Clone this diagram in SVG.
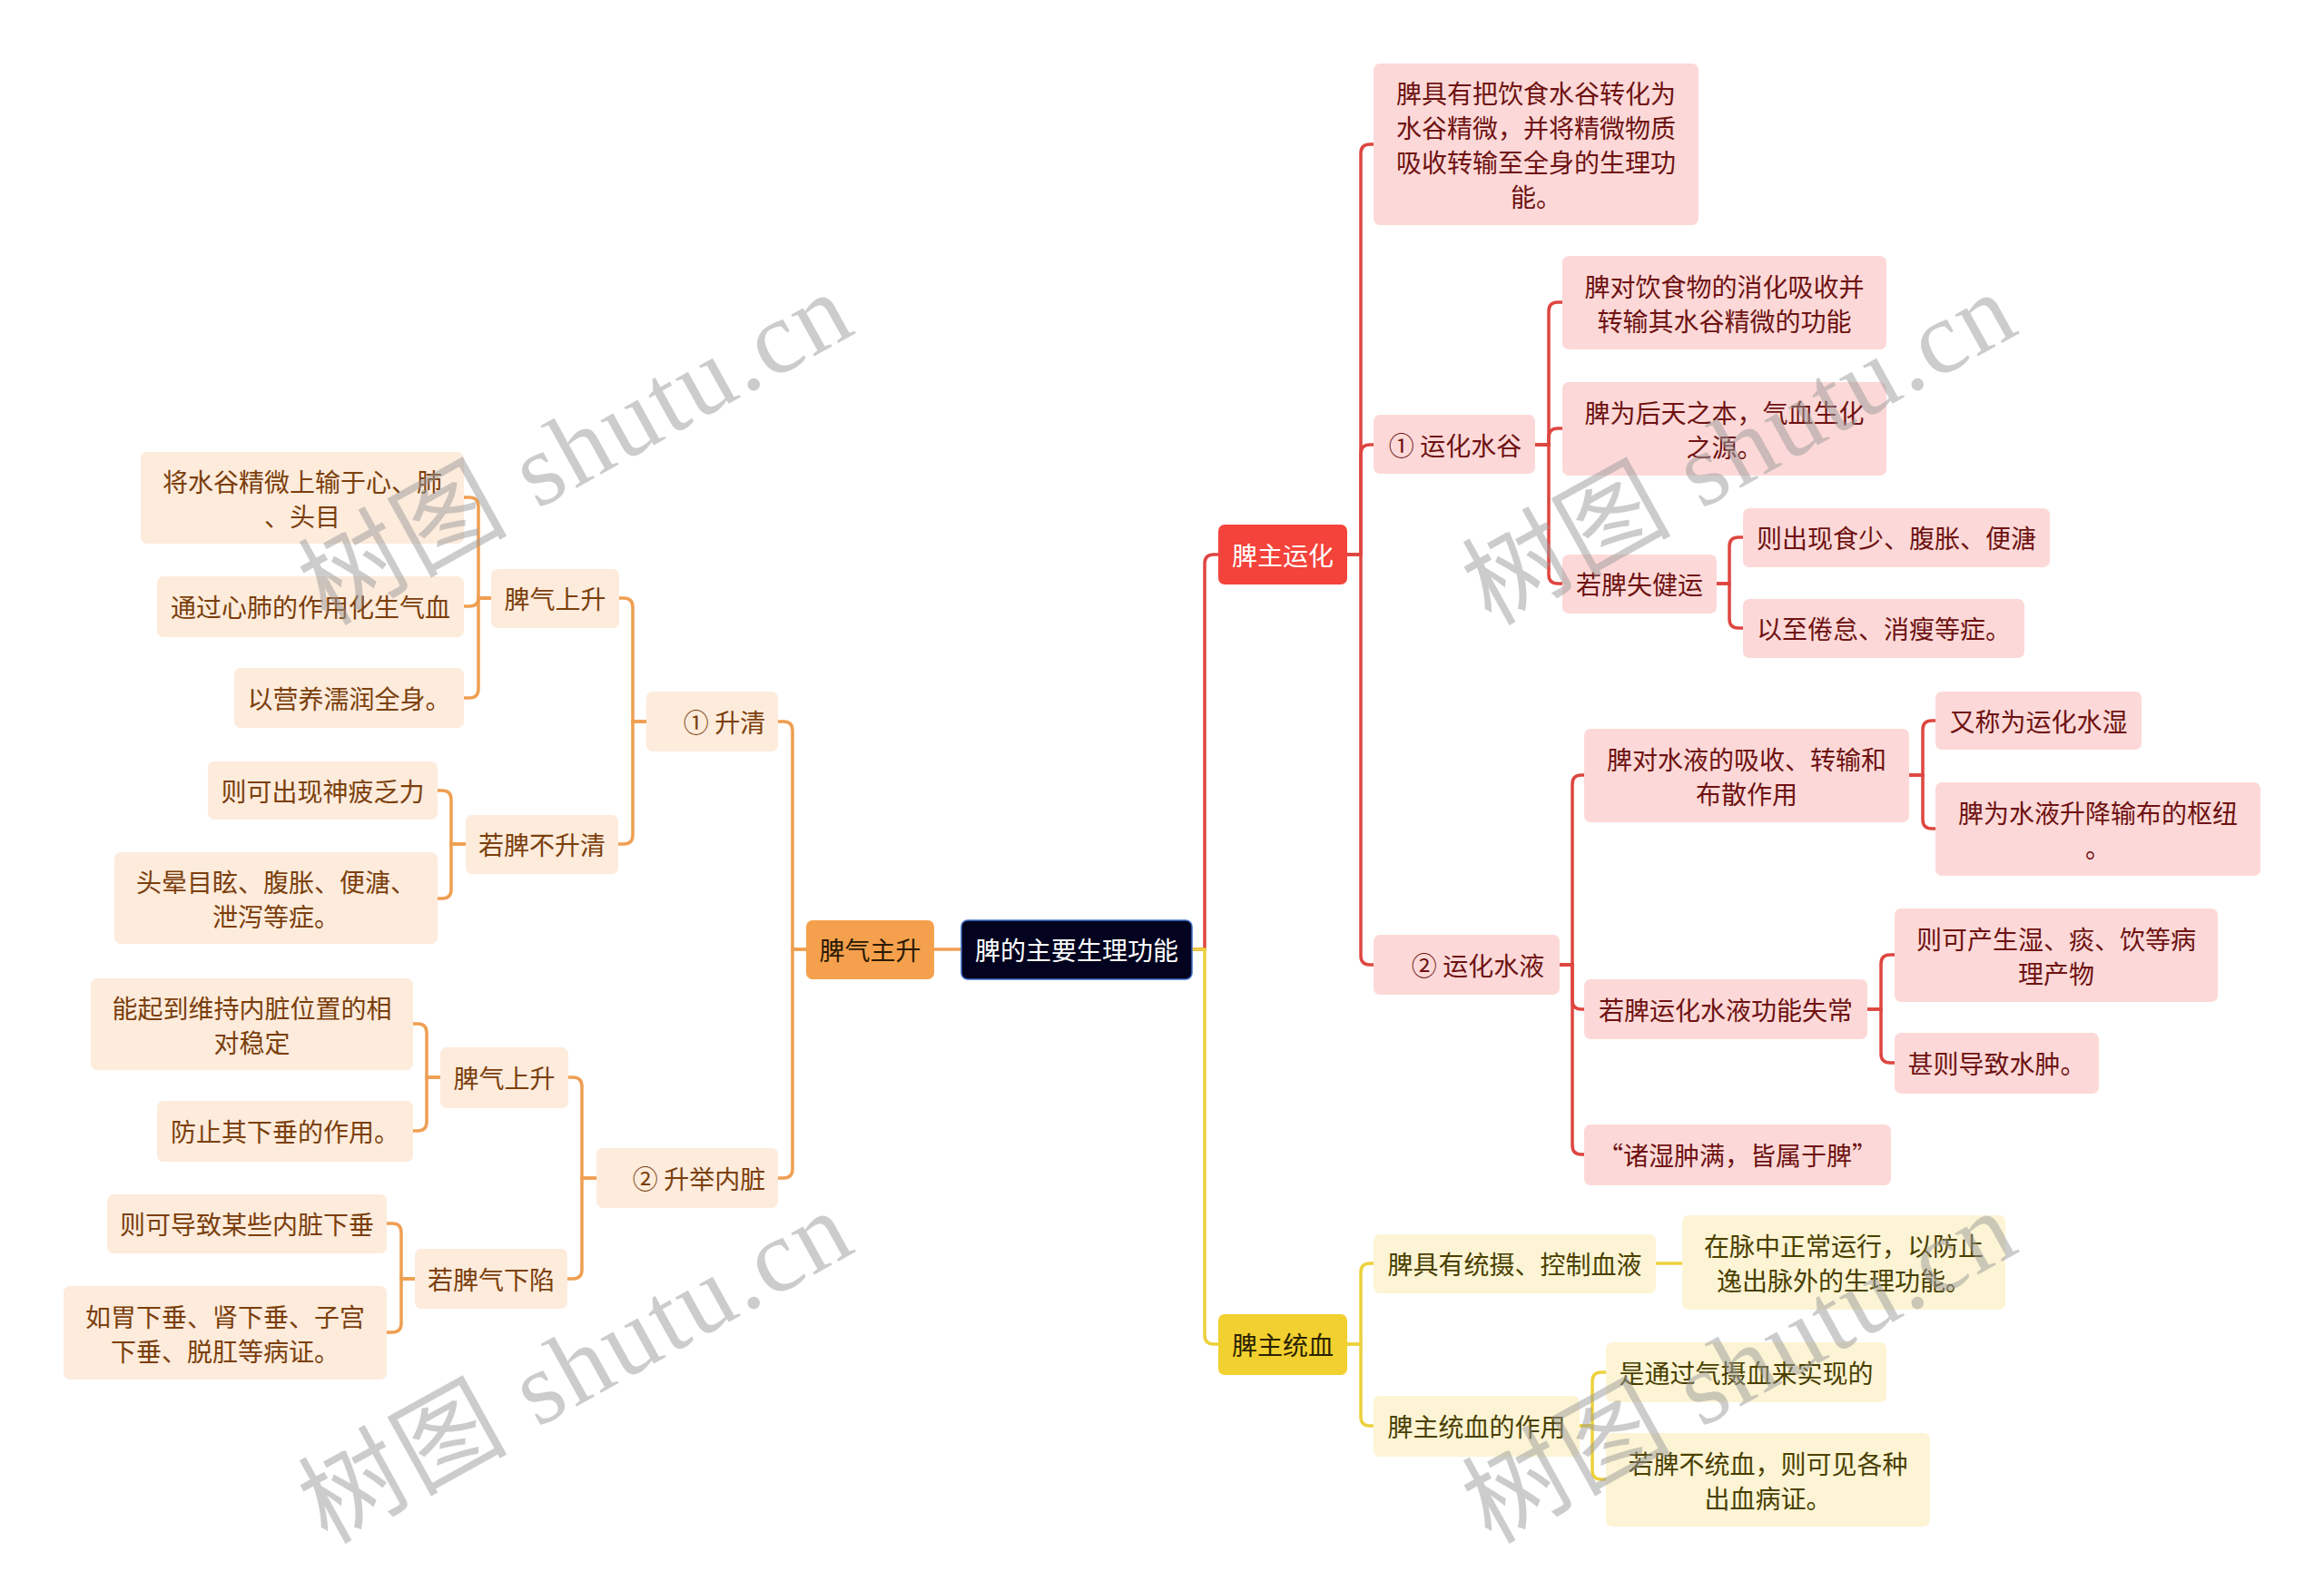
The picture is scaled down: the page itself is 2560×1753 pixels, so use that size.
<svg xmlns="http://www.w3.org/2000/svg" width="2560" height="1753" viewBox="0 0 2560 1753">
<style>
text{font-family:"Noto Sans CJK SC","Liberation Sans",sans-serif;font-size:28px;text-anchor:middle;dominant-baseline:central}
.cr{fill:none;stroke:#de4640;stroke-width:3.5}
.co{fill:none;stroke:#ef9f52;stroke-width:3.5}
.cy{fill:none;stroke:#ecd13c;stroke-width:3.5}
.nr rect{fill:#fcd9d8}.nr text{fill:#6e1212}
.no rect{fill:#fdebdc}.no text{fill:#7b3f0c}
.ny rect{fill:#fcf4d4}.ny text{fill:#4a3f00}
.wm{font-family:"Liberation Serif","Noto Sans CJK SC",serif;font-size:114px;fill:#9a9a9a;fill-opacity:0.5;text-anchor:start;dominant-baseline:alphabetic}
</style>
<rect width="2560" height="1753" fill="#ffffff"/>
<g id="connectors">
<path class="cr" d="M1313,1046 H1327 V621 Q1327,611 1337,611 H1342"/>
<path class="cr" d="M1484,611 H1499 V169 Q1499,159 1509,159 H1513"/>
<path class="cr" d="M1484,611 H1499 V500 Q1499,490 1509,490 H1513"/>
<path class="cr" d="M1484,611 H1499 V1053 Q1499,1063 1509,1063 H1513"/>
<path class="cr" d="M1691,490 H1706 V343 Q1706,333 1716,333 H1721"/>
<path class="cr" d="M1691,490 H1706 V482 Q1706,472 1716,472 H1721"/>
<path class="cr" d="M1691,490 H1706 V633 Q1706,643 1716,643 H1721"/>
<path class="cr" d="M1891,643 H1905 V602 Q1905,592 1915,592 H1920"/>
<path class="cr" d="M1891,643 H1905 V682 Q1905,692 1915,692 H1920"/>
<path class="cr" d="M1718,1063 H1732 V864 Q1732,854 1742,854 H1745"/>
<path class="cr" d="M1718,1063 H1732 V1102 Q1732,1112 1742,1112 H1745"/>
<path class="cr" d="M1718,1063 H1732 V1262 Q1732,1272 1742,1272 H1745"/>
<path class="cr" d="M2103,854 H2118 V804 Q2118,794 2128,794 H2132"/>
<path class="cr" d="M2103,854 H2118 V903 Q2118,913 2128,913 H2132"/>
<path class="cr" d="M2057,1112 H2072 V1062 Q2072,1052 2082,1052 H2087"/>
<path class="cr" d="M2057,1112 H2072 V1161 Q2072,1171 2082,1171 H2087"/>
<path class="cy" d="M1313,1046 H1327 V1471 Q1327,1481 1337,1481 H1342"/>
<path class="cy" d="M1484,1481 H1499 V1402 Q1499,1392 1509,1392 H1513"/>
<path class="cy" d="M1484,1481 H1499 V1561 Q1499,1571 1509,1571 H1513"/>
<path class="cy" d="M1824,1392 H1853"/>
<path class="cy" d="M1740,1571 H1754 V1522 Q1754,1512 1764,1512 H1769"/>
<path class="cy" d="M1740,1571 H1754 V1620 Q1754,1630 1764,1630 H1769"/>
<path class="co" d="M1059,1046 H1029"/>
<path class="co" d="M888,1046 H873 V805 Q873,795 863,795 H857"/>
<path class="co" d="M888,1046 H873 V1288 Q873,1298 863,1298 H857"/>
<path class="co" d="M712,795 H697 V669 Q697,659 687,659 H682"/>
<path class="co" d="M712,795 H697 V920 Q697,930 687,930 H681"/>
<path class="co" d="M541,659 H527 V558 Q527,548 517,548 H511"/>
<path class="co" d="M541,659 H527 Q527,668 517,668 H511"/>
<path class="co" d="M541,659 H527 V759 Q527,769 517,769 H511"/>
<path class="co" d="M513,930 H497 V881 Q497,871 487,871 H482"/>
<path class="co" d="M513,930 H497 V980 Q497,990 487,990 H482"/>
<path class="co" d="M657,1298 H641 V1197 Q641,1187 631,1187 H626"/>
<path class="co" d="M657,1298 H641 V1399 Q641,1409 631,1409 H625"/>
<path class="co" d="M485,1187 H470 V1138 Q470,1128 460,1128 H455"/>
<path class="co" d="M485,1187 H470 V1236 Q470,1246 460,1246 H455"/>
<path class="co" d="M457,1409 H442 V1358 Q442,1348 432,1348 H426"/>
<path class="co" d="M457,1409 H442 V1458 Q442,1468 432,1468 H426"/>
</g>
<g id="root"><rect x="1059" y="1014" width="254" height="65" rx="7" fill="#03031f" stroke="#3b6cc8" stroke-width="1.5"/><text x="1186" y="1046" fill="#ffffff">脾的主要生理功能</text></g>
<g id="n-yunhua"><rect x="1342" y="578" width="142" height="66" rx="7" fill="#f3433b"/><text x="1413" y="611" fill="#ffffff">脾主运化</text></g>
<g id="n-tongxue"><rect x="1342" y="1448" width="142" height="67" rx="7" fill="#f2d02f"/><text x="1413" y="1481" fill="#2a2200">脾主统血</text></g>
<g id="n-zhusheng"><rect x="888" y="1014" width="141" height="65" rx="7" fill="#f5a04c"/><text x="958.5" y="1046" fill="#2b1a05">脾气主升</text></g>
<g id="r1" class="nr"><rect x="1513" y="70" width="358" height="178" rx="7"/><text x="1692" y="102">脾具有把饮食水谷转化为</text><text x="1692" y="140">水谷精微，并将精微物质</text><text x="1692" y="178">吸收转输至全身的生理功</text><text x="1692" y="216">能。</text></g>
<g id="r2" class="nr"><rect x="1513" y="457" width="178" height="65" rx="7"/><text x="1603" y="490">① 运化水谷</text></g>
<g id="r3" class="nr"><rect x="1721" y="282" width="357" height="103" rx="7"/><text x="1899.5" y="314.5">脾对饮食物的消化吸收并</text><text x="1899.5" y="352.5">转输其水谷精微的功能</text></g>
<g id="r4" class="nr"><rect x="1721" y="421" width="357" height="103" rx="7"/><text x="1899.5" y="453.5">脾为后天之本，气血生化</text><text x="1899.5" y="491.5">之源。</text></g>
<g id="r5" class="nr"><rect x="1721" y="611" width="170" height="65" rx="7"/><text x="1806" y="643">若脾失健运</text></g>
<g id="r6" class="nr"><rect x="1920" y="560" width="338" height="65" rx="7"/><text x="2089" y="592">则出现食少、腹胀、便溏</text></g>
<g id="r7" class="nr"><rect x="1920" y="660" width="310" height="65" rx="7"/><text x="2075" y="692">以至倦怠、消瘦等症。</text></g>
<g id="r8" class="nr"><rect x="1513" y="1030" width="205" height="66" rx="7"/><text x="1628" y="1063">② 运化水液</text></g>
<g id="r9" class="nr"><rect x="1745" y="803" width="358" height="103" rx="7"/><text x="1924" y="835.5">脾对水液的吸收、转输和</text><text x="1924" y="873.5">布散作用</text></g>
<g id="r10" class="nr"><rect x="2132" y="762" width="227" height="64" rx="7"/><text x="2245.5" y="794">又称为运化水湿</text></g>
<g id="r11" class="nr"><rect x="2132" y="862" width="358" height="103" rx="7"/><text x="2311" y="894.5">脾为水液升降输布的枢纽</text><text x="2311" y="932.5">。</text></g>
<g id="r12" class="nr"><rect x="1745" y="1079" width="312" height="66" rx="7"/><text x="1901" y="1112">若脾运化水液功能失常</text></g>
<g id="r13" class="nr"><rect x="2087" y="1001" width="356" height="103" rx="7"/><text x="2265" y="1033.5">则可产生湿、痰、饮等病</text><text x="2265" y="1071.5">理产物</text></g>
<g id="r14" class="nr"><rect x="2087" y="1138" width="225" height="67" rx="7"/><text x="2199.5" y="1171">甚则导致水肿。</text></g>
<g id="r15" class="nr"><rect x="1745" y="1239" width="338" height="67" rx="7"/><text x="1914" y="1272">“诸湿肿满，皆属于脾”</text></g>
<g id="y1" class="ny"><rect x="1513" y="1360" width="311" height="65" rx="7"/><text x="1668.5" y="1392">脾具有统摄、控制血液</text></g>
<g id="y2" class="ny"><rect x="1853" y="1339" width="356" height="104" rx="7"/><text x="2031" y="1372">在脉中正常运行，以防止</text><text x="2031" y="1410">逸出脉外的生理功能。</text></g>
<g id="y3" class="ny"><rect x="1513" y="1538" width="227" height="67" rx="7"/><text x="1626.5" y="1571">脾主统血的作用</text></g>
<g id="y4" class="ny"><rect x="1769" y="1479" width="309" height="66" rx="7"/><text x="1923.5" y="1512">是通过气摄血来实现的</text></g>
<g id="y5" class="ny"><rect x="1769" y="1579" width="357" height="103" rx="7"/><text x="1947.5" y="1611.5">若脾不统血，则可见各种</text><text x="1947.5" y="1649.5">出血病证。</text></g>
<g id="o1" class="no"><rect x="712" y="762" width="145" height="66" rx="7"/><text x="798" y="795">① 升清</text></g>
<g id="o2" class="no"><rect x="541" y="627" width="141" height="65" rx="7"/><text x="611.5" y="659">脾气上升</text></g>
<g id="o3" class="no"><rect x="155" y="498" width="356" height="101" rx="7"/><text x="333" y="529.5">将水谷精微上输于心、肺</text><text x="333" y="567.5">、头目</text></g>
<g id="o4" class="no"><rect x="173" y="635" width="338" height="67" rx="7"/><text x="342" y="668">通过心肺的作用化生气血</text></g>
<g id="o5" class="no"><rect x="258" y="736" width="253" height="66" rx="7"/><text x="384.5" y="769">以营养濡润全身。</text></g>
<g id="o6" class="no"><rect x="513" y="898" width="168" height="65" rx="7"/><text x="597" y="930">若脾不升清</text></g>
<g id="o7" class="no"><rect x="229" y="839" width="253" height="64" rx="7"/><text x="355.5" y="871">则可出现神疲乏力</text></g>
<g id="o8" class="no"><rect x="126" y="939" width="356" height="101" rx="7"/><text x="304" y="971">头晕目眩、腹胀、便溏、</text><text x="304" y="1009">泄泻等症。</text></g>
<g id="o9" class="no"><rect x="657" y="1265" width="200" height="66" rx="7"/><text x="770" y="1298">② 升举内脏</text></g>
<g id="o10" class="no"><rect x="485" y="1154" width="141" height="67" rx="7"/><text x="555.5" y="1187">脾气上升</text></g>
<g id="o11" class="no"><rect x="100" y="1078" width="355" height="101" rx="7"/><text x="277.5" y="1109.5">能起到维持内脏位置的相</text><text x="277.5" y="1147.5">对稳定</text></g>
<g id="o12" class="no"><rect x="173" y="1213" width="282" height="67" rx="7"/><text x="314" y="1246">防止其下垂的作用。</text></g>
<g id="o13" class="no"><rect x="457" y="1376" width="168" height="66" rx="7"/><text x="541" y="1409">若脾气下陷</text></g>
<g id="o14" class="no"><rect x="118" y="1316" width="308" height="65" rx="7"/><text x="272" y="1348">则可导致某些内脏下垂</text></g>
<g id="o15" class="no"><rect x="70" y="1417" width="356" height="103" rx="7"/><text x="248" y="1449.5">如胃下垂、肾下垂、子宫</text><text x="248" y="1487.5">下垂、脱肛等病证。</text></g>
<g id="watermark">
<text class="wm" x="360" y="690" textLength="668" transform="rotate(-29 360 690)">树图 shutu.cn</text>
<text class="wm" x="1642" y="690" textLength="668" transform="rotate(-29 1642 690)">树图 shutu.cn</text>
<text class="wm" x="360" y="1702" textLength="668" transform="rotate(-29 360 1702)">树图 shutu.cn</text>
<text class="wm" x="1642" y="1702" textLength="668" transform="rotate(-29 1642 1702)">树图 shutu.cn</text>
</g>
</svg>
